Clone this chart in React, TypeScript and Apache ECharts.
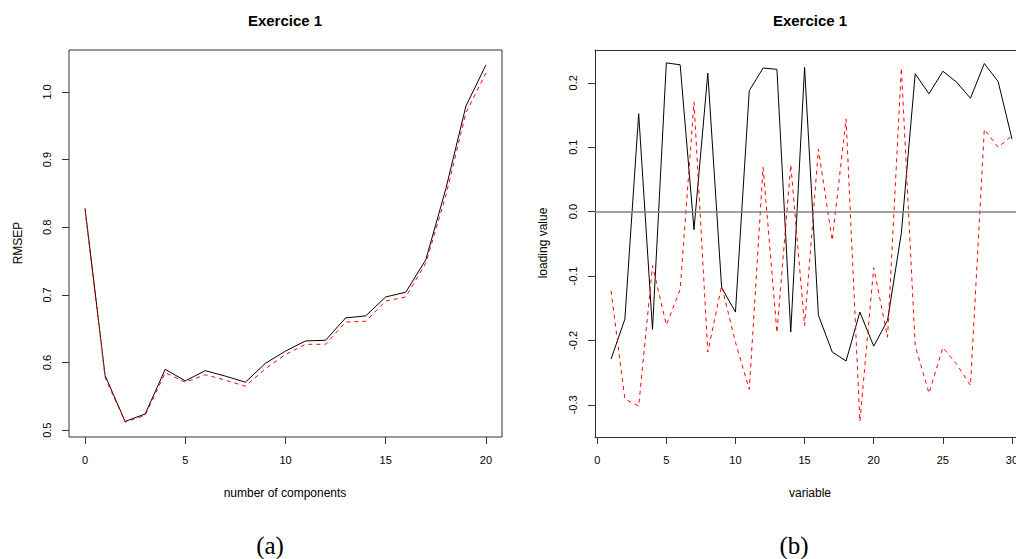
import React, { useEffect, useRef } from "react";
import * as echarts from "echarts";

// Panel (a): RMSEP vs number of components
const components = [0, 1, 2, 3, 4, 5, 6, 7, 8, 9, 10, 11, 12, 13, 14, 15, 16, 17, 18, 19, 20];
const rmsepCV = [0.828, 0.581, 0.513, 0.524, 0.590, 0.573, 0.588, 0.580, 0.571, 0.599, 0.617, 0.632, 0.633, 0.666, 0.669, 0.697, 0.704, 0.752, 0.857, 0.979, 1.040];
const rmsepAdjCV = [0.826, 0.578, 0.512, 0.522, 0.585, 0.571, 0.582, 0.574, 0.565, 0.591, 0.612, 0.627, 0.627, 0.660, 0.661, 0.691, 0.697, 0.747, 0.847, 0.969, 1.028];
const xTicksA = [0, 5, 10, 15, 20];
const yTicksA = [0.5, 0.6, 0.7, 0.8, 0.9, 1.0];

// Panel (b): loadings vs variable
const variables = [1, 2, 3, 4, 5, 6, 7, 8, 9, 10, 11, 12, 13, 14, 15, 16, 17, 18, 19, 20, 21, 22, 23, 24, 25, 26, 27, 28, 29, 30];
const loadingComp1 = [-0.229, -0.167, 0.152, -0.183, 0.231, 0.228, -0.028, 0.215, -0.118, -0.156, 0.188, 0.223, 0.221, -0.187, 0.224, -0.161, -0.218, -0.232, -0.156, -0.209, -0.169, -0.033, 0.214, 0.183, 0.218, 0.201, 0.176, 0.230, 0.202, 0.113];
const loadingComp2 = [-0.123, -0.291, -0.302, -0.084, -0.176, -0.121, 0.170, -0.218, -0.115, -0.203, -0.276, 0.069, -0.188, 0.073, -0.177, 0.097, -0.045, 0.144, -0.326, -0.087, -0.195, 0.223, -0.208, -0.282, -0.211, -0.237, -0.270, 0.128, 0.100, 0.118];
const xTicksB = [0, 5, 10, 15, 20, 25, 30];
const yTicksB = [-0.3, -0.2, -0.1, 0.0, 0.1, 0.2];

const FONT = "'Liberation Sans', Arial, sans-serif";
const BOX = "#333";

function axisCommon(ticks: number[], isY: boolean, fmt: (v: number) => string, showLine: boolean) {
  return {
    splitLine: { show: false },
    axisLine: { show: showLine, onZero: false, lineStyle: { color: BOX, width: 1 } },
    axisTick: {
      show: true,
      inside: false,
      length: 7,
      customValues: ticks,
      lineStyle: { color: BOX, width: 1 },
    },
    axisLabel: {
      show: true,
      customValues: ticks,
      margin: 17,
      rotate: isY ? 90 : 0,
      fontSize: 11,
      fontFamily: FONT,
      color: "#000",
      hideOverlap: false,
      formatter: (v: number) => fmt(v),
    },
  };
}

export default function App() {
  const ref = useRef<HTMLDivElement>(null);
  useEffect(() => {
    if (!ref.current) return;
    const chart = echarts.init(ref.current, null, { renderer: "svg" });
    const txt = (
      text: string,
      x: number,
      y: number,
      opts: { size?: number; weight?: string; rot?: number; family?: string } = {}
    ) => ({
      type: "text",
      x,
      y,
      rotation: opts.rot || 0,
      style: {
        text,
        fontSize: opts.size || 12,
        fontWeight: opts.weight || "normal",
        fontFamily: opts.family || FONT,
        fill: "#000",
        align: "center",
        verticalAlign: "middle",
      },
    });
    chart.setOption({
      animation: false,
      backgroundColor: "#fff",
      grid: [
        { left: 69, top: 50, width: 433, height: 387, show: true, borderColor: BOX, borderWidth: 1, containLabel: false, outerBoundsMode: "none" },
        { left: 595, top: 50, width: 433, height: 387, show: false, containLabel: false, outerBoundsMode: "none" },
      ],
      xAxis: [
        { type: "value", gridIndex: 0, min: -0.8, max: 20.8, ...axisCommon(xTicksA, false, (v) => String(v), false) },
        { type: "value", gridIndex: 1, min: -0.16, max: 31.16, ...axisCommon(xTicksB, false, (v) => String(v), true) },
        {
          type: "value",
          gridIndex: 1,
          position: "top",
          min: -0.16,
          max: 31.16,
          splitLine: { show: false },
          axisLine: { show: true, onZero: false, lineStyle: { color: BOX, width: 1 } },
          axisTick: { show: false },
          axisLabel: { show: false },
        },
      ],
      yAxis: [
        { type: "value", gridIndex: 0, min: 0.49, max: 1.062, ...axisCommon(yTicksA, true, (v) => v.toFixed(1), false) },
        { type: "value", gridIndex: 1, min: -0.35, max: 0.251, ...axisCommon(yTicksB, true, (v) => v.toFixed(1), true) },
      ],
      series: [
        {
          name: "CV",
          type: "line",
          xAxisIndex: 0,
          yAxisIndex: 0,
          symbol: "none",
          data: components.map((c, i) => [c, rmsepCV[i]]),
          lineStyle: { color: "#000", width: 1 },
          itemStyle: { color: "#000" },
        },
        {
          name: "adjCV",
          type: "line",
          xAxisIndex: 0,
          yAxisIndex: 0,
          symbol: "none",
          data: components.map((c, i) => [c, rmsepAdjCV[i]]),
          lineStyle: { color: "#ff0000", width: 1, type: [4, 4] },
          itemStyle: { color: "#ff0000" },
        },
        {
          name: "Comp 1",
          type: "line",
          xAxisIndex: 1,
          yAxisIndex: 1,
          symbol: "none",
          data: variables.map((v, i) => [v, loadingComp1[i]]),
          lineStyle: { color: "#000", width: 1 },
          itemStyle: { color: "#000" },
          markLine: {
            silent: true,
            symbol: ["none", "none"],
            label: { show: false },
            lineStyle: { color: "#808080", type: "solid", width: 1.5 },
            data: [{ yAxis: 0 }],
          },
        },
        {
          name: "Comp 2",
          type: "line",
          xAxisIndex: 1,
          yAxisIndex: 1,
          symbol: "none",
          data: variables.map((v, i) => [v, loadingComp2[i]]),
          lineStyle: { color: "#ff0000", width: 1, type: [4, 4] },
          itemStyle: { color: "#ff0000" },
        },
      ],
      graphic: [
        txt("Exercice 1", 285, 20, { size: 15, weight: "bold" }),
        txt("Exercice 1", 810, 20, { size: 15, weight: "bold" }),
        txt("RMSEP", 18, 243, { rot: Math.PI / 2 }),
        txt("loading value", 543, 243, { rot: Math.PI / 2 }),
        txt("number of components", 285, 493),
        txt("variable", 810, 493),
        txt("(a)", 270, 545, { size: 25, family: "'Liberation Serif', 'DejaVu Serif', serif" }),
        txt("(b)", 794, 545, { size: 25, family: "'Liberation Serif', 'DejaVu Serif', serif" }),
      ],
    });
    return () => chart.dispose();
  }, []);
  return <div ref={ref} style={{ position: "absolute", left: 0, top: 0, width: 1016, height: 559 }} />;
}
